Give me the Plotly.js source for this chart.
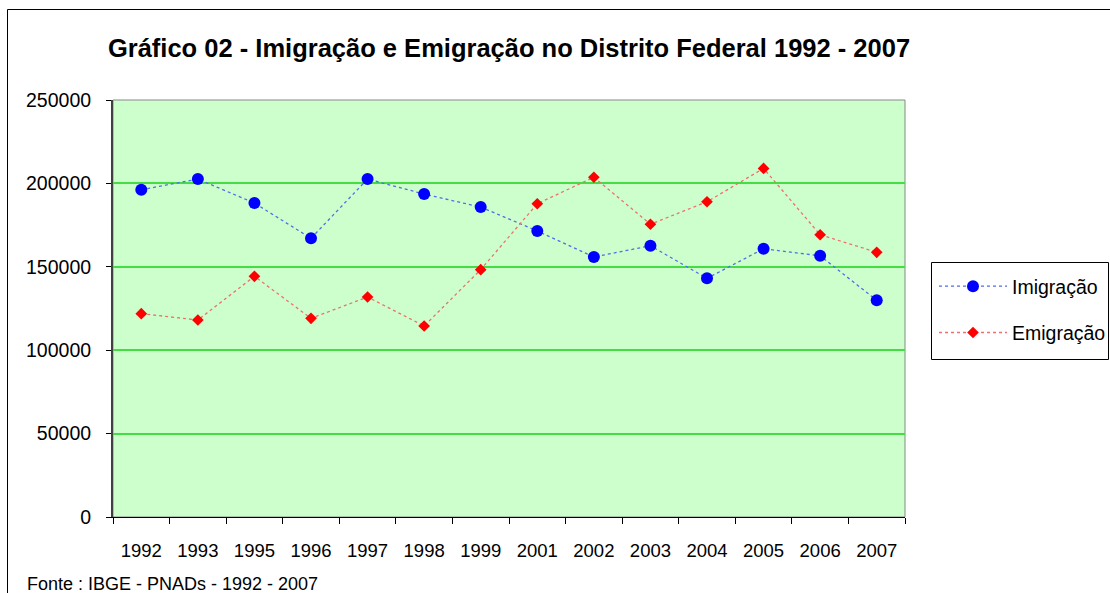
<!DOCTYPE html>
<html>
<head>
<meta charset="utf-8">
<script src="https://cdn.plot.ly/plotly-3.0.1.min.js"></script>
<style>
  html, body { margin: 0; padding: 0; background: #ffffff; }
  #chart { width: 1110px; height: 593px; }
</style>
</head>
<body>
<div id="chart"></div>
<script>
var years = ["1992", "1993", "1995", "1996", "1997", "1998", "1999", "2001", "2002", "2003", "2004", "2005", "2006", "2007"];
var imigracao = [196200, 202600, 188200, 167100, 202600, 193600, 185800, 171500, 155900, 162600, 143100, 160800, 156600, 129900];
var emigracao = [121900, 118100, 144300, 119100, 131900, 114500, 148300, 187800, 203700, 175500, 189000, 209000, 169200, 158700];
var yTicks = [0, 50000, 100000, 150000, 200000, 250000];

var font = "Liberation Sans, Arial, sans-serif";

var traces = [
  {
    x: years, y: imigracao, name: "Imigração", type: "scatter", mode: "lines+markers",
    legendgroup: "a",
    line: { color: "#4f6fe8", width: 1.3, dash: "dot" },
    marker: { symbol: "circle", size: 12, color: "#0000ff" }
  },
  {
    x: years, y: emigracao, name: "Emigração", type: "scatter", mode: "lines+markers",
    legendgroup: "b",
    line: { color: "#f07070", width: 1.3, dash: "dot" },
    marker: { symbol: "diamond", size: 9, color: "#ff0000" }
  }
];

var L = 113, R = 905, T = 100, B = 517;
function px(x) { return (x - L) / (R - L); }
function py(y) { return (B - y) / (B - T); }

var layout = {
  width: 1110, height: 593,
  margin: { l: L, r: 1110 - R, t: T, b: 593 - B, autoexpand: false },
  paper_bgcolor: "#ffffff",
  plot_bgcolor: "#ccffcc",
  font: { family: font, size: 18, color: "#000000" },
  title: {
    text: "<b>Gráfico 02 - Imigração e Emigração no Distrito Federal 1992 - 2007</b>",
    font: { family: font, size: 25.5, color: "#000000" },
    x: 0.5, xref: "paper", xanchor: "center",
    y: 1 - 48 / 593, yref: "container", yanchor: "middle"
  },
  xaxis: {
    type: "category",
    range: [-0.5, years.length - 0.5],
    tickson: "boundaries",
    ticks: "outside", ticklen: 6, tickcolor: "#000000", tickwidth: 1,
    showline: true, linecolor: "#000000", linewidth: 1,
    showgrid: false, zeroline: false,
    tickfont: { family: font, size: 18.5 },
    ticklabelstandoff: 17,
    fixedrange: true
  },
  yaxis: {
    range: [0, 250000],
    tickvals: yTicks,
    ticktext: yTicks.map(function (v) { return String(v); }),
    ticks: "outside", ticklen: 5, tickcolor: "#000000", tickwidth: 1,
    showline: true, linecolor: "#404040", linewidth: 2,
    showgrid: true, gridcolor: "#44dd44", gridwidth: 2,
    zeroline: false,
    tickfont: { family: font, size: 19.5 },
    ticklabelstandoff: 11,
    fixedrange: true
  },
  showlegend: true,
  legend: {
    xref: "container", yref: "container",
    x: 934 / 1110, xanchor: "left",
    y: 1 - 267 / 593, yanchor: "top",
    borderwidth: 0,
    bgcolor: "rgba(0,0,0,0)",
    font: { family: font, size: 19.5 },
    tracegroupgap: 18,
    itemwidth: 68
  },
  shapes: [
    {
      type: "rect", xref: "paper", yref: "paper",
      x0: 0, x1: 1, y0: 0, y1: 1,
      line: { color: "#888888", width: 1 },
      layer: "below"
    },
    {
      type: "rect", xref: "paper", yref: "paper",
      x0: px(7.5), x1: 1.4,
      y0: -0.4, y1: py(9.5),
      line: { color: "#000000", width: 1 },
      layer: "below"
    },
    {
      type: "rect", xref: "paper", yref: "paper",
      x0: px(931.5), x1: px(1108.5),
      y0: py(359.5), y1: py(262.5),
      line: { color: "#000000", width: 1 },
      fillcolor: "#ffffff",
      layer: "below"
    }
  ],
  annotations: [
    {
      text: "Fonte : IBGE - PNADs - 1992 - 2007",
      xref: "paper", yref: "paper",
      x: px(25), xanchor: "left",
      y: py(584), yanchor: "middle",
      showarrow: false,
      font: { family: font, size: 18, color: "#000000" }
    }
  ]
};

Plotly.newPlot("chart", traces, layout, { displayModeBar: false, staticPlot: true });
</script>
</body>
</html>
